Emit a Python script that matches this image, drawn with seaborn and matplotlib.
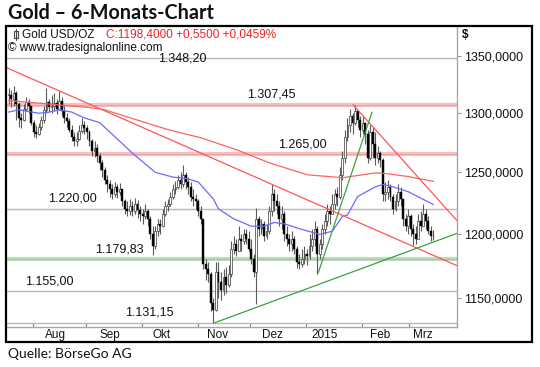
import numpy as np
import pandas as pd
import seaborn as sns
import matplotlib
matplotlib.use("Agg")
import matplotlib.pyplot as plt
from matplotlib.patches import Rectangle
from matplotlib.lines import Line2D
from matplotlib.ticker import FixedLocator, NullLocator, NullFormatter

sns.set_style("white")
plt.rcParams["font.family"] = ["Liberation Sans", "DejaVu Sans"]

# daily gold candles (bar index = trading day)
close = [
    1316, 1312, 1318, 1308, 1296, 1294, 1304, 1310, 1306,
    1292, 1284, 1282, 1288, 1294, 1303, 1310, 1305,
    1306, 1309, 1304, 1311, 1302, 1296, 1293, 1286, 1280, 1276,
    1278, 1285, 1290, 1287, 1284, 1276, 1268,
    1270, 1264, 1258, 1252, 1244, 1240, 1236, 1232,
    1238, 1234, 1236, 1226, 1220, 1218, 1222, 1218, 1224, 1219,
    1216, 1214, 1218, 1212, 1200, 1190, 1202, 1208, 1206,
    1216, 1222, 1224, 1230, 1236, 1238, 1244, 1240, 1248, 1242,
    1238, 1230, 1228, 1226, 1218, 1212, 1176, 1172, 1168,
    1146, 1141, 1170, 1162, 1156, 1166, 1160, 1168,
    1188, 1192, 1186, 1196, 1194, 1200, 1196, 1188, 1180, 1170, 1212,
    1204, 1208, 1198, 1202, 1218, 1232, 1226, 1222, 1212, 1216,
    1200, 1196, 1192, 1196, 1188, 1178, 1176, 1180, 1184, 1182,
    1190, 1196, 1204, 1184, 1192, 1204, 1210, 1218, 1216,
    1224, 1232, 1230, 1248, 1262, 1280, 1290, 1298, 1292, 1302,
    1294, 1286, 1292, 1282, 1262, 1284, 1274, 1262, 1266, 1260,
    1232, 1234, 1238, 1230, 1220, 1226, 1234, 1228, 1212, 1206,
    1214, 1204, 1200, 1196, 1210, 1206, 1216, 1210, 1202, 1197.9, 1198.4,
]
high = [
    1322, 1320, 1324, 1319, 1310, 1300, 1308, 1314, 1312,
    1306, 1294, 1290, 1292, 1298, 1306, 1322, 1312,
    1316, 1318, 1312, 1319, 1314, 1306, 1300, 1296, 1290, 1284,
    1284, 1290, 1296, 1293, 1290, 1286, 1278,
    1276, 1274, 1266, 1260, 1254, 1248, 1244, 1240,
    1242, 1240, 1241, 1236, 1228, 1226, 1228, 1226, 1229, 1227,
    1222, 1220, 1224, 1220, 1214, 1206, 1206, 1212, 1212,
    1220, 1226, 1228, 1234, 1240, 1243, 1248, 1250, 1256, 1250,
    1246, 1242, 1236, 1232, 1228, 1222, 1212, 1180, 1178,
    1170, 1150, 1178, 1178, 1170, 1172, 1174, 1175,
    1194, 1198, 1196, 1206, 1200, 1204, 1204, 1202, 1196, 1184, 1221,
    1214, 1212, 1210, 1208, 1222, 1240, 1236, 1232, 1226, 1222,
    1218, 1206, 1200, 1202, 1198, 1190, 1184, 1188, 1190, 1188,
    1200, 1204, 1210, 1206, 1196, 1208, 1216, 1224, 1222,
    1232, 1236, 1238, 1254, 1268, 1286, 1296, 1304, 1300, 1307.45,
    1302, 1298, 1298, 1290, 1286, 1290, 1288, 1284, 1272, 1268,
    1262, 1242, 1244, 1240, 1232, 1232, 1240, 1238, 1226, 1216,
    1220, 1216, 1208, 1206, 1216, 1218, 1224, 1220, 1214, 1206, 1203,
]
low = [
    1308, 1305, 1306, 1294, 1288, 1287, 1293, 1302, 1300,
    1290, 1280, 1279, 1281, 1286, 1292, 1300, 1301,
    1300, 1302, 1299, 1303, 1298, 1292, 1288, 1284, 1276, 1272,
    1272, 1277, 1283, 1282, 1278, 1272, 1264,
    1263, 1259, 1252, 1246, 1240, 1234, 1230, 1228,
    1230, 1229, 1231, 1222, 1216, 1214, 1215, 1214, 1216, 1213,
    1210, 1208, 1212, 1206, 1196, 1183, 1188, 1198, 1200,
    1205, 1214, 1218, 1222, 1228, 1232, 1236, 1236, 1238, 1236,
    1232, 1226, 1222, 1220, 1214, 1208, 1172, 1164, 1162,
    1140, 1131.15, 1140, 1150, 1148, 1152, 1154, 1158,
    1166, 1184, 1182, 1188, 1186, 1192, 1192, 1186, 1176, 1166, 1145,
    1198, 1200, 1194, 1196, 1200, 1214, 1218, 1216, 1206, 1204,
    1194, 1190, 1186, 1186, 1184, 1173, 1172, 1174, 1176, 1175,
    1180, 1186, 1190, 1168, 1180, 1188, 1200, 1206, 1208,
    1216, 1220, 1222, 1228, 1244, 1258, 1276, 1284, 1282, 1290,
    1288, 1280, 1282, 1274, 1258, 1260, 1262, 1256, 1258, 1254,
    1226, 1226, 1228, 1226, 1216, 1218, 1222, 1222, 1206, 1202,
    1200, 1198, 1191, 1192, 1196, 1202, 1206, 1204, 1200, 1194, 1195,
]

# moving averages (blue = short, red = long)
ma_short_idx = [0, 4, 12, 16, 20, 25, 30, 36, 42, 49, 58, 65, 70, 75, 81, 83,
                89, 96, 101, 105, 109, 115, 123, 128, 132, 134, 138, 145, 148,
                152, 158, 168]
ma_short_val = [1301, 1303, 1300, 1301, 1303, 1301, 1296, 1292, 1280, 1266,
                1250, 1246, 1245, 1242, 1228, 1220, 1212, 1206, 1206, 1209,
                1208, 1204, 1199.5, 1202, 1214, 1215, 1230, 1238, 1240, 1238,
                1234, 1223.5]
ma_long_idx = [0, 32, 38, 63, 76, 90, 103, 118, 132, 145, 149, 158, 168]
ma_long_val = [1311, 1305, 1303, 1286, 1279, 1269, 1258, 1248, 1245.5,
               1249.5, 1249, 1246.5, 1242.5]

# trend lines: (start index, end index), (start price, end price)
red_trend_a = ([-0.6, 177.3], [1339.8, 1174.8])
red_trend_b = ([136.2, 177.3], [1307.45, 1210.5])
green_trend_a = ([122.4, 143.7], [1169.0, 1301.0])
green_trend_b = ([81.6, 177.3], [1131.15, 1200.3])

gray_levels = [1348.20, 1220.00, 1155.00, 1131.15]
red_levels = [1307.45, 1265.00]
green_levels = [1179.83]
level_texts = {1348.20: "1.348,20", 1307.45: "1.307,45", 1265.00: "1.265,00",
               1220.00: "1.220,00", 1179.83: "1.179,83", 1155.00: "1.155,00",
               1131.15: "1.131,15"}

yticks = [1150, 1200, 1250, 1300, 1350]
ytick_labels = ["1150,0000", "1200,0000", "1250,0000", "1300,0000", "1350,0000"]
months = ["Aug", "Sep", "Okt", "Nov", "Dez", "2015", "Feb", "Mrz"]

W, H = 540, 367
fig = plt.figure(figsize=(W / 100, H / 100), dpi=100)


def fx(px):
    return px / W


def fy(py):
    return 1 - py / H


ax = fig.add_axes([fx(7), fy(327), fx(457) - fx(7), fy(27) - fy(327)])
ax.set_yscale("log")

# levels
for lv in gray_levels:
    ax.axhline(lv, color="#b8b8b8", lw=1.0, zorder=1)
for lv in red_levels:
    ax.axhline(lv, color="#f6c0c0", lw=3.0, zorder=1)
    ax.axhline(lv, color="#ee9a9a", lw=0.6, zorder=1)
for lv in green_levels:
    ax.axhline(lv, color="#bcdcbc", lw=3.0, zorder=1)
    ax.axhline(lv, color="#98c898", lw=0.6, zorder=1)

label_x = {1348.20: 68.6, 1307.45: 103.8, 1265.00: 116.0, 1220.00: 25.1,
           1179.83: 43.7, 1155.00: 16.0, 1131.15: 55.5}
label_dy = {1348.20: -4}
for lv, txt in level_texts.items():
    ax.annotate(txt, (label_x[lv], lv), xytext=(0, label_dy.get(lv, 3)),
                textcoords="offset points", ha="center", va="bottom",
                fontsize=9, color="#111111", zorder=6)

# candles
c = np.array(close, dtype=float)
h = np.array(high, dtype=float)
l = np.array(low, dtype=float)
o = np.r_[c[0], c[:-1]]
h = np.maximum(h, np.maximum(o, c))
l = np.minimum(l, np.minimum(o, c))
idx = np.arange(len(c))
up = c >= o
ax.vlines(idx, l, h, color="#5a5a5a", lw=0.8, zorder=2)
ax.bar(idx[up], np.maximum(c - o, 0.6)[up], bottom=o[up], width=0.75,
       color="white", edgecolor="#3a3a3a", linewidth=0.5, zorder=3)
ax.bar(idx[~up], np.maximum(o - c, 0.6)[~up], bottom=c[~up], width=0.75,
       color="black", edgecolor="black", linewidth=0.3, zorder=3)

# moving averages
ma = pd.DataFrame({"i": ma_short_idx, "v": ma_short_val})
sns.lineplot(data=ma, x="i", y="v", ax=ax, color="#6a6aff", lw=0.9, zorder=4)
ma2 = pd.DataFrame({"i": ma_long_idx, "v": ma_long_val})
sns.lineplot(data=ma2, x="i", y="v", ax=ax, color="#ff6262", lw=0.9, zorder=4)

for (xs, ys), col in [(red_trend_a, "#ff5555"), (red_trend_b, "#ff5555"),
                      (green_trend_a, "#3fa03f"), (green_trend_b, "#3fa03f")]:
    ax.plot(xs, ys, color=col, lw=0.9, zorder=4)

ax.set_xlim(-0.6, 177.3)
ax.set_ylim(1127.9, 1376.7)
ax.set_xlabel("")
ax.set_ylabel("")

# y axis on the right
ax.yaxis.tick_right()
ax.yaxis.set_major_locator(FixedLocator(yticks))
ax.yaxis.set_minor_locator(NullLocator())
ax.yaxis.set_minor_formatter(NullFormatter())
ax.set_yticklabels(ytick_labels)
ax.tick_params(axis="y", which="major", direction="out", length=3, width=0.8,
               color="#999999", labelsize=9, pad=2, labelcolor="#111111")

# x axis: month labels, separate tick marks
ax.set_xticks([18.4, 40.1, 60.7, 82.8, 104.5, 125.1, 146.8, 163.8])
ax.set_xticklabels(months)
ax.xaxis.set_minor_locator(FixedLocator([9.7, 30.6, 52.8, 74.9, 95.5, 117.6, 139.7, 158.3]))
ax.tick_params(axis="x", which="major", length=0, labelsize=8.5, pad=1.5,
               labelcolor="#111111")
ax.tick_params(axis="x", which="minor", direction="in", length=3, width=0.8,
               color="#888888", bottom=True)

for side in ["top", "left"]:
    ax.spines[side].set_visible(False)
for side in ["right", "bottom"]:
    ax.spines[side].set_color("#a8a8a8")
    ax.spines[side].set_linewidth(1.0)

# outer frame
fig.patches.append(Rectangle((fx(6), fy(342)), fx(532) - fx(6), fy(26) - fy(342),
                             transform=fig.transFigure, fill=False,
                             ec="black", lw=1.6, zorder=10))

# candle icon in the header
fig.add_artist(Line2D([fx(15.5), fx(15.5)], [fy(29), fy(40)], color="#444444", lw=0.8))
fig.patches.append(Rectangle((fx(13.5), fy(37.5)), fx(4), 6.5 / H,
                             transform=fig.transFigure, fill=True, fc="white",
                             ec="#444444", lw=0.8))

fig.text(fx(8), fy(13), "Gold \u2013 6-Monats-Chart", fontsize=14.2, fontweight="bold",
         family=["Lato", "DejaVu Sans"], va="center", ha="left", color="#111111")
fig.text(fx(22), fy(34.5), "Gold USD/OZ", fontsize=8.5, va="center", ha="left",
         color="#111111")
fig.text(fx(106), fy(34.5), "C:1198,4000 +0,5500 +0,0459%", fontsize=8.5,
         va="center", ha="left", color="#ee2222")
fig.text(fx(8), fy(47.5), "\u00a9 www.tradesignalonline.com", fontsize=8.5,
         va="center", ha="left", color="#111111")
fig.text(fx(462), fy(34.5), "$", fontsize=8.5, fontweight="bold", va="center",
         ha="left", color="#111111")
fig.text(fx(8), fy(354), "Quelle: B\u00f6rseGo AG", fontsize=10,
         family=["Lato", "DejaVu Sans"], va="center", ha="left", color="#111111")

fig.savefig("out.png", dpi=100)
